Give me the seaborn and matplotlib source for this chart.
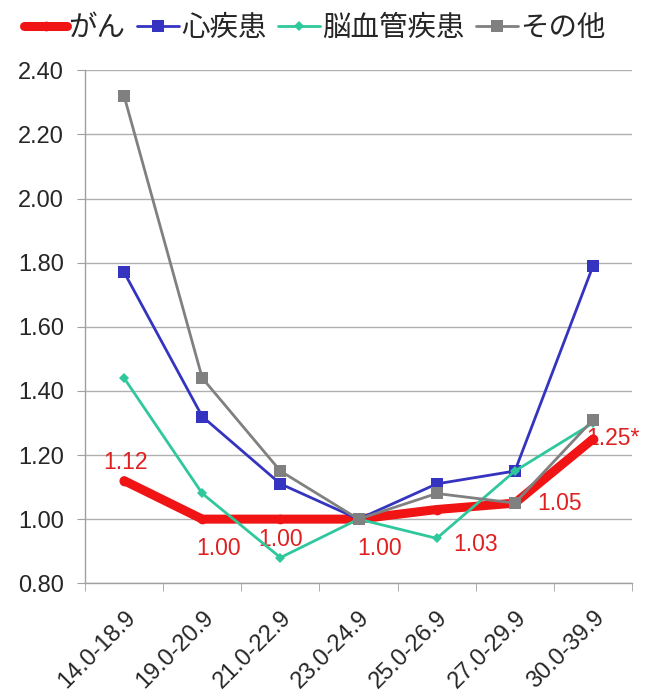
import matplotlib
matplotlib.use("Agg")
import matplotlib.pyplot as plt
import seaborn as sns
import pandas as pd
from matplotlib.ticker import MultipleLocator, FixedLocator

# BMI categories
categories = ["14.0-18.9", "19.0-20.9", "21.0-22.9", "23.0-24.9",
              "25.0-26.9", "27.0-29.9", "30.0-39.9"]

gan = [1.12, 1.00, 1.00, 1.00, 1.03, 1.05, 1.25]
shin = [1.77, 1.32, 1.11, 1.00, 1.11, 1.15, 1.79]
nou = [1.44, 1.08, 0.88, 1.00, 0.94, 1.15, 1.30]
sonota = [2.32, 1.44, 1.15, 1.00, 1.08, 1.05, 1.31]

gan_labels = ["1.12", "1.00", "1.00", "1.00", "1.03", "1.05", "1.25*"]

sns.set_style("white")
plt.rcParams['font.family'] = ['Liberation Sans', 'Noto Sans CJK JP']

fig = plt.figure(figsize=(6.49, 6.96), dpi=100)
ax = fig.add_axes([0.131, 0.162, 0.843, 0.737])

xs = list(range(len(categories)))
series = [
    ("がん", gan, "#f01414", 6.5, "o", 7),
    ("心疾患", shin, "#3434c0", 2.0, "s", 9),
    ("脳血管疾患", nou, "#2fc89c", 2.0, "D", 5),
    ("その他", sonota, "#808080", 2.0, "s", 9),
]
for name, vals, col, lw, mk, ms in series:
    df = pd.DataFrame({"x": xs, "y": vals})
    sns.lineplot(data=df, x="x", y="y", ax=ax, color=col, linewidth=lw,
                 marker=mk, markersize=ms, markeredgewidth=0, label=name,
                 solid_capstyle="round",
                 zorder=3 if name == "がん" else 4)

# data labels for がん (offsets in points)
offsets = [(1, 13), (12, -21), (0, -15), (15, -21), (28, -25), (16, 0), (-5, 0)]
aligns = ["center", "center", "center", "center", "center", "left", "left"]
for i, (v, t) in enumerate(zip(gan, gan_labels)):
    dx, dy = offsets[i]
    ax.annotate(t, (i, v), xytext=(dx, dy), textcoords="offset points",
                ha=aligns[i], va="center", color="#e02020", fontsize=16.5,
                zorder=2, annotation_clip=False)

ax.set_xlim(-0.5, 6.5)
ax.set_ylim(0.8, 2.4)
ax.yaxis.set_major_locator(MultipleLocator(0.2))
ax.set_yticklabels([f"{v:.2f}" for v in ax.get_yticks()], fontsize=17)
ax.set_xticks(xs)
ax.set_xticklabels(categories, rotation=45, ha="right", rotation_mode="anchor",
                   fontsize=17)
ax.xaxis.set_minor_locator(FixedLocator([i - 0.5 for i in range(8)]))
ax.tick_params(axis="x", which="major", length=0, pad=17)
ax.tick_params(axis="x", which="minor", length=6, color="#a0a0a0", direction="out", bottom=True)
ax.tick_params(axis="y", length=6, color="#a0a0a0", direction="out", left=True, pad=9)
ax.set_xlabel("")
ax.set_ylabel("")
ax.grid(axis="y", color="#b0b0b0", linewidth=1.0)
ax.set_axisbelow(True)
for s in ["top", "right"]:
    ax.spines[s].set_visible(False)
for s in ["left", "bottom"]:
    ax.spines[s].set_color("#a0a0a0")
    ax.spines[s].set_linewidth(1.0)

handles, labels = ax.get_legend_handles_labels()
ax.legend_.remove()
fig.legend(handles, labels, loc="upper center", bbox_to_anchor=(0.485, 1.014),
           ncol=4, frameon=False, fontsize=20.5, handlelength=1.5,
           handletextpad=0.05, columnspacing=0.4)

fig.savefig("out.png", dpi=100)
